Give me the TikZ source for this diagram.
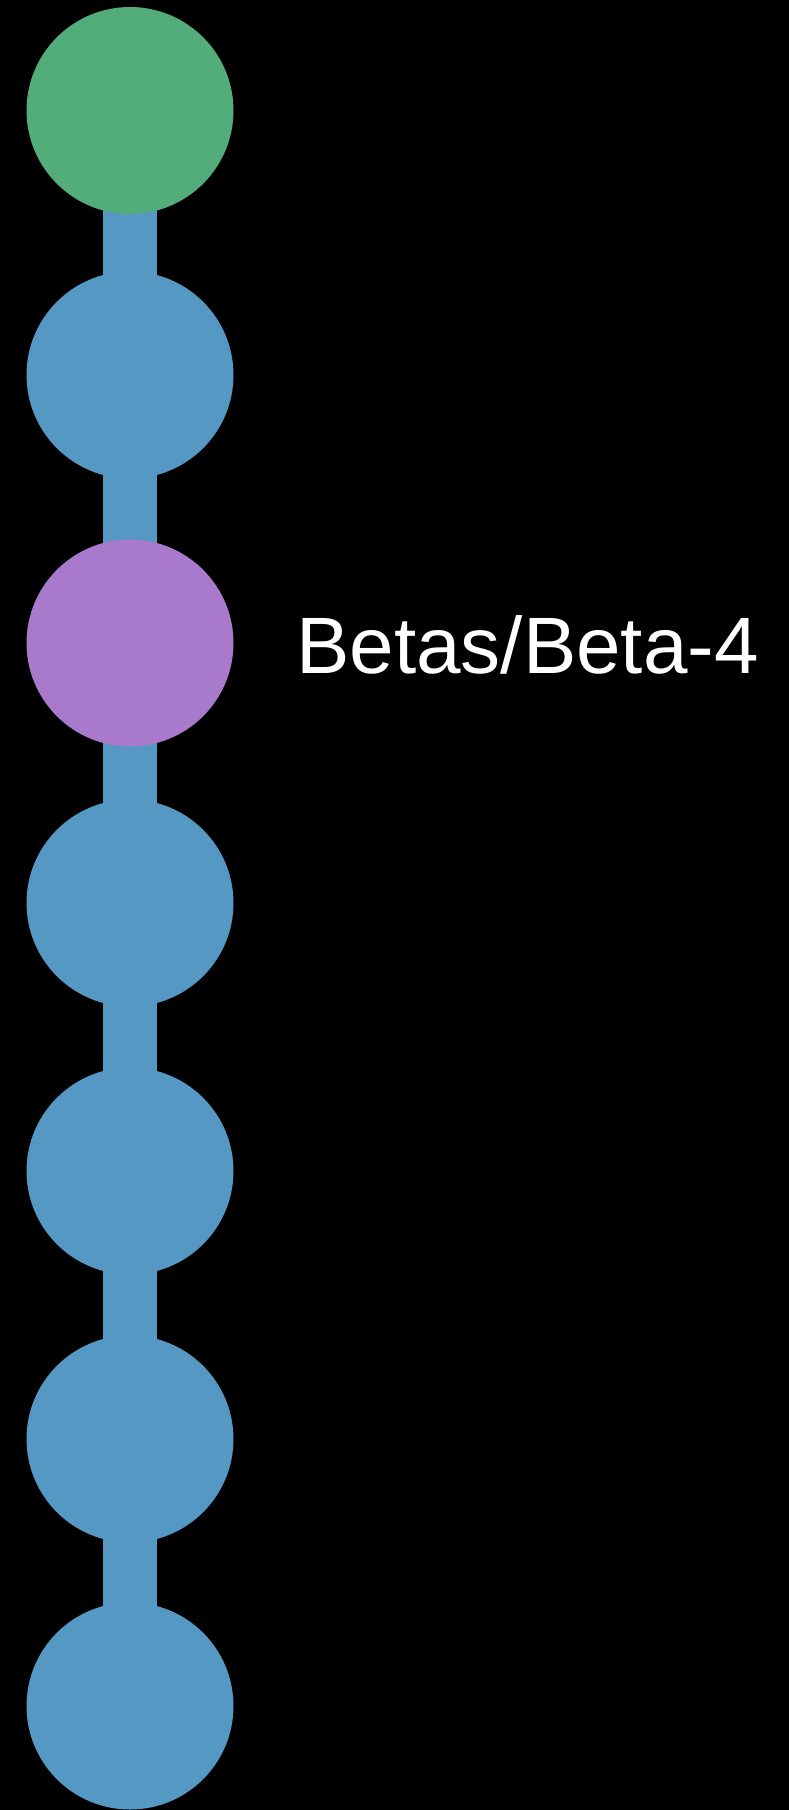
\documentclass[tikz,border=0pt]{standalone}
\usepackage{fontspec}
\setmainfont{Liberation Sans}
\usetikzlibrary{backgrounds}
\definecolor{cgreen}{RGB}{83,173,122}
\definecolor{cblue}{RGB}{84,152,195}
\definecolor{cpurple}{RGB}{169,121,203}
\tikzset{
  dot/.style={circle, minimum size=207pt, inner sep=0pt, draw=none, fill=#1},
  link/.style={draw=cblue, line width=54pt},
  lbl/.style={anchor=base west, inner sep=0pt, text=white, font=\fontsize{80}{80}\selectfont}
}
\begin{document}
\begin{tikzpicture}[x=1pt,y=-1pt]
\useasboundingbox (0,0) rectangle (789,1810);
\node[dot=cgreen] (n1) at (130,110.5) {};
\node[dot=cblue] (n2) at (130,375) {};
\node[dot=cpurple] (n3) at (130,643) {};
\node[dot=cblue] (n4) at (130,903) {};
\node[dot=cblue] (n5) at (130,1171) {};
\node[dot=cblue] (n6) at (130,1439) {};
\node[dot=cblue] (n7) at (130,1706) {};
\node[lbl] (t) at (296,673) {Betas/Beta-4};
\begin{scope}[on background layer]
\fill[black] (0,0) rectangle (789,1810);
\draw[link] (n1.center) -- (n2.center) -- (n3.center) -- (n4.center) -- (n5.center) -- (n6.center) -- (n7.center);
\end{scope}
\end{tikzpicture}
\end{document}
